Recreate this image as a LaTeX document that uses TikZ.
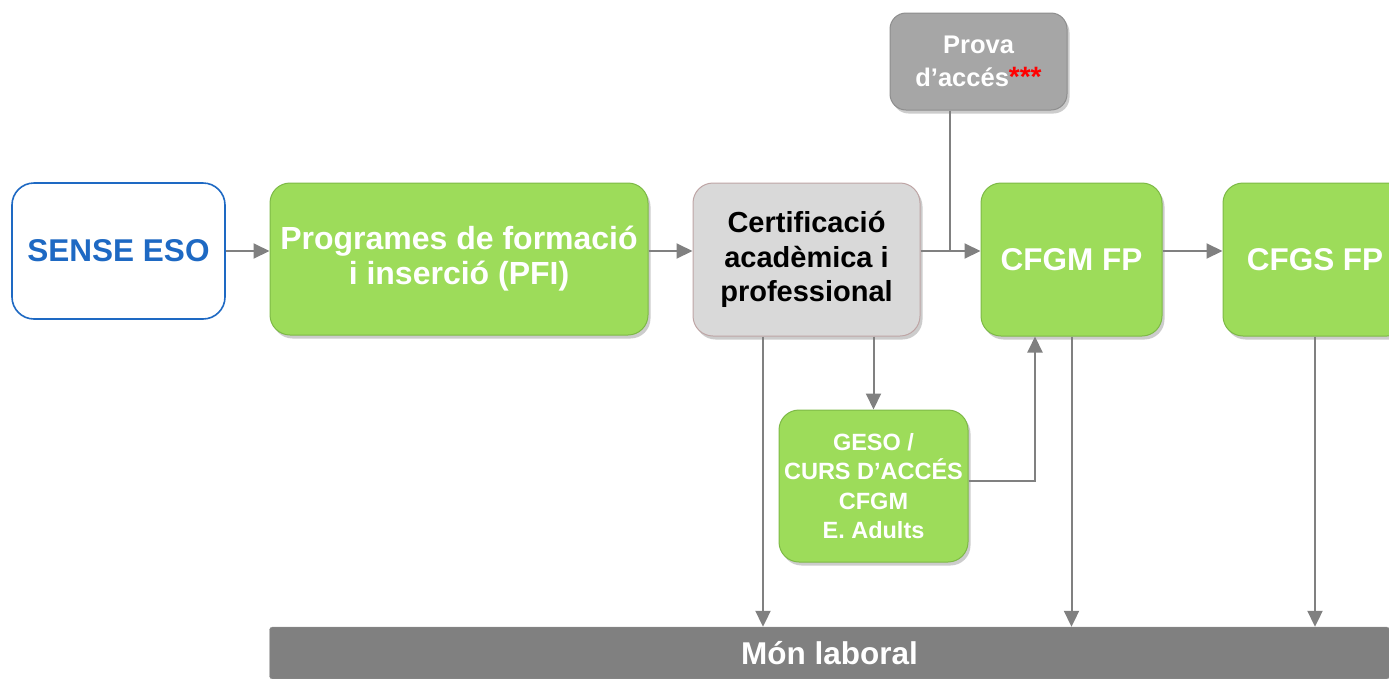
\documentclass[tikz,border=0pt]{standalone}
\usepackage{fontspec}
\setmainfont{Liberation Sans}
\usepackage{tikz}
\usetikzlibrary{arrows.meta,shadows}
\definecolor{boxgreen}{RGB}{157,220,90}
\definecolor{greenline}{RGB}{125,185,70}
\definecolor{certgray}{RGB}{217,217,217}
\definecolor{certline}{RGB}{190,165,165}
\definecolor{provagray}{RGB}{166,166,166}
\definecolor{arrowgray}{RGB}{128,128,128}
\definecolor{esoblue}{RGB}{30,105,195}
\tikzset{
  boxshadow/.style={drop shadow={opacity=0.4,shadow xshift=2.5pt,shadow yshift=-3.5pt}},
  greenbox/.style={rounded corners=20pt,fill=boxgreen,draw=greenline,line width=1pt,
    text=white,align=center,font=\bfseries,boxshadow},
  graybox/.style={rounded corners=20pt,fill=certgray,draw=certline,line width=1pt,
    text=black,align=center,font=\bfseries,boxshadow},
  conn/.style={draw=arrowgray,line width=2pt,-{Triangle[length=16pt,width=15pt]}},
  plainconn/.style={draw=arrowgray,line width=2pt}
}

\begin{document}
\begin{tikzpicture}[x=1pt,y=-1pt]
    \useasboundingbox (0,0) rectangle (1389,678);
    % Starting point
    \node[draw=esoblue,line width=1.6pt,rounded corners=22pt,fill=white,
      minimum width=213pt,minimum height=136pt,text=esoblue,
      font=\bfseries\fontsize{31.5}{36}\selectfont] (eso) at (118.5,251) {SENSE ESO};
    % Main row
    \node[greenbox,minimum width=378pt,minimum height=152pt,
      font=\bfseries\fontsize{32}{35}\selectfont] (pfi) at (459,259)
      {Programes de formació\\i inserció (PFI)};
    \node[graybox,minimum width=227pt,minimum height=153pt,
      font=\bfseries\fontsize{29}{34.5}\selectfont] (cert) at (806.5,259.5)
      {Certificació\\acadèmica i\\professional};
    \node[greenbox,minimum width=181pt,minimum height=153pt,
      font=\bfseries\fontsize{31.5}{36}\selectfont] (cfgm) at (1071.5,259.5) {CFGM FP};
    \node[greenbox,minimum width=184pt,minimum height=153pt,
      font=\bfseries\fontsize{31.5}{36}\selectfont] (cfgs) at (1315,259.5) {CFGS FP};
    % Side entries
    \node[graybox,fill=provagray,draw=arrowgray!90,text=white,rounded corners=16pt,
      minimum width=177pt,minimum height=97pt,
      font=\bfseries\fontsize{25.5}{33}\selectfont] (prova) at (978.5,61.5)
      {Prova\\d’accés\textcolor{red}{\fontsize{28}{33}\selectfont***}};
    \node[greenbox,minimum width=189pt,minimum height=152pt,
      font=\bfseries\fontsize{23.5}{29.5}\selectfont] (geso) at (873.5,486)
      {GESO /\\CURS D’ACCÉS\\CFGM\\E. Adults};
    % Labour market bar
    \node[fill=arrowgray,draw=arrowgray!80,rounded corners=3pt,minimum width=1120pt,
      minimum height=52pt,text=white,font=\bfseries\fontsize{31.5}{34}\selectfont]
      (mon) at (829.5,653) {Món laboral};
    % Connectors along the main row
    \draw[conn] (eso.east) -- (pfi.west |- eso.east);
    \draw[conn] (pfi.east |- eso.east) -- (cert.west |- eso.east);
    \coordinate (join) at (950,251);
    \draw[conn] (cert.east |- join) -- (cfgm.west |- join);
    \draw[plainconn] (prova.south -| join) -- (join);
    \draw[conn] (cfgm.east |- join) -- (cfgs.west |- join);
    % Connectors going down
    \coordinate (certleft) at (763,336);
    \draw[conn] (certleft |- cert.south) -- (certleft |- mon.north);
    \draw[conn] (cert.south -| geso.north) -- (geso.north);
    \coordinate (gesoup) at (1035,481);
    \draw[conn] (geso.east |- gesoup) -- (gesoup) -- (gesoup |- cfgm.south);
    \draw[conn] (cfgm.south) -- (mon.north -| cfgm.south);
    \draw[conn] (cfgs.south) -- (mon.north -| cfgs.south);
\end{tikzpicture}
\end{document}
